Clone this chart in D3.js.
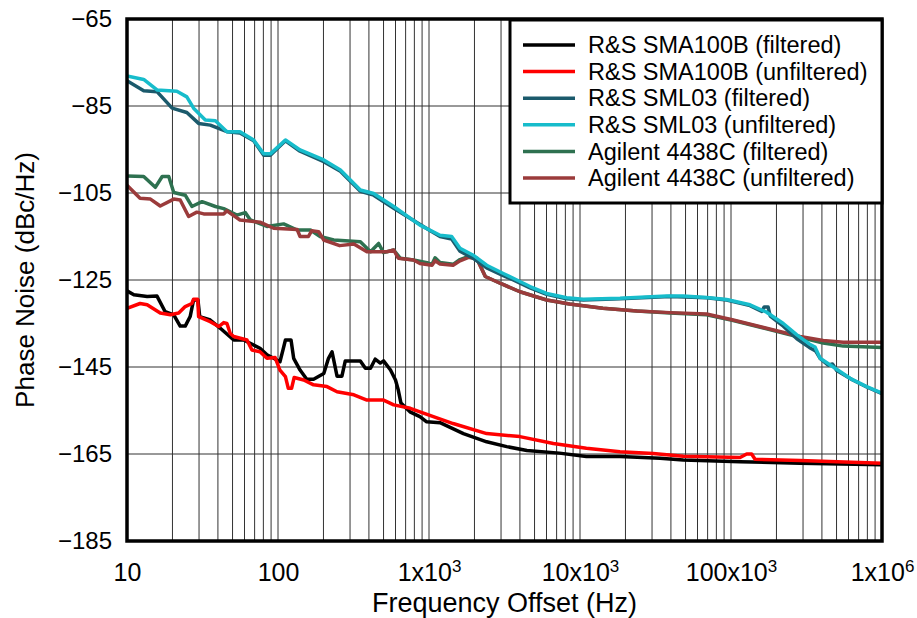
<!DOCTYPE html>
<html><head><meta charset="utf-8">
<script src="https://cdn.jsdelivr.net/npm/d3@7"></script>
<style>
body{margin:0;background:#fff;}
svg{display:block;font-family:"Liberation Sans",Arial,sans-serif;}
</style></head><body>
<svg id="chart" width="917" height="618"></svg>
<script>
const seriesNames = ["R&S SMA100B (filtered)","R&S SMA100B (unfiltered)","R&S SML03 (filtered)","R&S SML03 (unfiltered)","Agilent 4438C (filtered)","Agilent 4438C (unfiltered)"];
const seriesColors = ["#000000","#ff0000","#1b5a6c","#17bccb","#2e7150","#9b3b3b"];
const yTicks = [-65,-85,-105,-125,-145,-165,-185];
const xTicks = [10,100,1e3,1e4,1e5,1e6];
const xTickLabels = ["10","100","1x10^3","10x10^3","100x10^3","1x10^6"];

const smaFiltered = [[10,-127.5],[11.1,-128.4],[13.6,-128.8],[15.8,-128.7],[17.9,-132.3],[20.4,-133.0],[22.5,-135.6],[24.3,-135.6],[26.2,-133.4],[27.6,-129.6],[29.5,-129.6],[30.3,-133.4],[35.6,-134.2],[41.5,-136.1],[50.9,-138.8],[59.3,-138.8],[76,-140.7],[84.5,-142.2],[93.6,-143.0],[103,-143.8],[108,-141],[112,-138.8],[122,-138.8],[127,-143.0],[140,-145.7],[155,-147.8],[172,-147.8],[201,-146.5],[216,-143.0],[228,-141.5],[246,-147.1],[265,-147.1],[279,-143.6],[351,-143.6],[379,-145.3],[410,-145.3],[440,-143.2],[476,-144.1],[500,-143.6],[556,-145.7],[600,-148.0],[626,-150.3],[652,-153.3],[748,-155.3],[870,-156.4],[965,-157.6],[1183,-157.8],[1690,-160.3],[2410,-162.2],[3270,-163.3],[4450,-164.2],[7300,-164.8],[11020,-165.6],[18400,-165.6],[33900,-166.0],[48300,-166.4],[114800,-166.8],[286500,-167.1],[1e6,-167.5]];
const smaUnfiltered = [[10,-131.5],[12.2,-130.4],[13.6,-130.7],[16.6,-132.6],[19.4,-133.0],[22,-132.6],[24.3,-131.1],[26.9,-130.4],[27.6,-129.4],[29.4,-129.4],[29.8,-133.4],[35.6,-134.6],[40.5,-135.7],[43.7,-134.8],[45.9,-135.0],[48.3,-137.3],[50.9,-138.0],[62.3,-138.8],[67.2,-141.1],[76,-141.5],[84.5,-143.0],[95.6,-142.8],[103,-145.7],[112,-147.2],[117,-149.9],[123,-149.9],[128,-147.4],[148,-148.0],[172,-149.1],[211,-149.5],[246,-150.7],[318,-151.4],[388,-152.6],[500,-152.6],[584,-153.7],[752,-154.5],[871,-155.3],[1444,-158.0],[2410,-160.3],[4000,-161.0],[6660,-162.6],[11020,-163.7],[18400,-164.5],[30500,-164.9],[48300,-165.5],[114800,-165.8],[127000,-165.0],[137000,-165.0],[144300,-166.2],[286500,-166.5],[1e6,-167.1]];
const smlFiltered = [[10,-79.2],[12.9,-81.5],[15.8,-81.7],[19.9,-85.5],[24.9,-86.5],[29.8,-89.0],[35.6,-89.4],[45.9,-90.9],[56,-91.2],[69,-93.0],[80.4,-96.3],[89,-96.3],[112,-93.0],[140,-95.4],[201,-97.8],[259,-100.0],[351,-104.6],[430,-105.5],[584,-108.5],[970,-113.2],[1183,-115.0],[1413,-115.6],[1604,-118.4],[1964,-120.0],[2410,-122.2],[3105,-124.0],[3615,-125.0],[4667,-126.8],[6013,-128.3],[8160,-129.3],[10520,-129.6],[18400,-129.3],[39470,-128.8],[68900,-129.1],[93500,-129.6],[133600,-130.9],[160000,-132.2],[166000,-131.2],[176000,-131.2],[182000,-133.3],[222000,-135.6],[273000,-138.5],[330000,-140.5],[363000,-141.3],[389000,-143.0],[440000,-144.6],[470000,-144.3],[501000,-145.8],[640000,-148.0],[792000,-149.6],[1e6,-151.1]];
const smlUnfiltered = [[10,-78.1],[12.9,-78.9],[15.8,-81.3],[21.4,-81.6],[24.9,-82.9],[27.6,-85.5],[33,-88.2],[38.5,-88.4],[45.9,-90.9],[56,-90.9],[69,-92.8],[80.4,-96.0],[89,-96.0],[112,-92.8],[140,-95.1],[201,-97.4],[259,-99.7],[351,-104.3],[430,-105.1],[584,-108.1],[871,-112.4],[1183,-114.7],[1413,-115.0],[1604,-117.7],[1964,-119.3],[2410,-121.6],[3105,-123.5],[3615,-124.6],[4667,-126.5],[6013,-128.1],[8160,-129.1],[10520,-129.4],[18400,-129.2],[37500,-128.7],[48300,-128.7],[68900,-129.0],[93500,-129.5],[133600,-130.7],[172000,-132.4],[222000,-135.0],[273000,-137.6],[330000,-139.7],[360000,-140.4],[389000,-143.0],[501000,-145.5],[614000,-147.6],[792000,-149.5],[1e6,-151.0]];
const agFiltered = [[10,-101.1],[12.9,-101.2],[15.4,-103.7],[17.1,-101.2],[18.9,-101.2],[20.4,-104.9],[24.3,-105.5],[26.9,-108.1],[31.4,-107.0],[38.5,-108.1],[43.7,-108.6],[53.4,-110.1],[60.7,-109.5],[65.6,-111.2],[84.5,-112.7],[109,-112.1],[134,-113.5],[164,-113.5],[190,-115.0],[234,-115.8],[351,-116.2],[410,-118.5],[464,-116.6],[500,-118.7],[584,-118.1],[646,-120.0],[790,-120.4],[970,-121.0],[1047,-121.4],[1097,-119.9],[1183,-121.0],[1444,-121.4],[1604,-120.3],[1828,-119.6],[2078,-120.0],[2360,-124.2],[2980,-125.8],[4000,-127.7],[6013,-129.6],[8520,-130.5],[14160,-131.5],[23800,-132.1],[39470,-132.6],[68900,-133.0],[103500,-134.3],[172000,-136.2],[286500,-138.2],[408000,-139.5],[554000,-140.2],[1e6,-140.5]];
const agUnfiltered = [[10,-103.2],[12.2,-106.2],[14.3,-106.4],[16.6,-108.0],[20.4,-106.4],[22.5,-106.6],[25.6,-110.4],[29,-109.4],[32.2,-109.8],[43.7,-109.8],[45.9,-109.1],[56,-111.2],[76,-111.7],[93.6,-113.1],[134,-113.4],[140,-115.0],[159,-115.0],[167,-113.7],[186,-113.9],[201,-115.8],[256,-117.1],[318,-116.7],[388,-118.5],[526,-118.5],[584,-118.1],[626,-120.0],[790,-120.4],[871,-121.2],[1047,-121.6],[1097,-120.6],[1183,-121.3],[1444,-121.6],[1604,-120.6],[1828,-119.8],[2078,-120.2],[2360,-124.2],[2980,-125.8],[4000,-127.7],[6013,-129.6],[8520,-130.5],[14160,-131.5],[23800,-132.1],[39470,-132.5],[68900,-132.8],[103500,-134.2],[172000,-136.1],[286500,-138.0],[408000,-138.9],[554000,-139.3],[1e6,-139.3]];

const seriesData = [smaFiltered, smaUnfiltered, smlFiltered, smlUnfiltered, agFiltered, agUnfiltered];
const drawOrder = [4,5,2,3,0,1];

const svg = d3.select("#chart");
const L = 127, R = 882, T = 19, B = 541;
const x = d3.scaleLog().domain([10,1e6]).range([L,R]);
const y = d3.scaleLinear().domain([-185,-65]).range([B,T]);

svg.append("defs").append("clipPath").attr("id","clip")
  .append("rect").attr("x",L).attr("y",T).attr("width",R-L).attr("height",B-T);

const grid = svg.append("g");
grid.selectAll("line.v").data(x.ticks()).join("line")
  .attr("x1",d=>x(d)).attr("x2",d=>x(d)).attr("y1",T).attr("y2",B)
  .attr("stroke","#333").attr("stroke-width",1);
grid.selectAll("line.h").data(yTicks).join("line")
  .attr("x1",L).attr("x2",R).attr("y1",d=>y(d)).attr("y2",d=>y(d))
  .attr("stroke","#333").attr("stroke-width",1);

const line = d3.line().x(d=>x(d[0])).y(d=>y(d[1]));
const lg = svg.append("g").attr("clip-path","url(#clip)");
drawOrder.forEach(i=>{
  lg.append("path").datum(seriesData[i]).attr("d",line)
    .attr("fill","none").attr("stroke",seriesColors[i]).attr("stroke-width",3.5)
    .attr("stroke-linejoin","round");
});

const yAxis = svg.append("g").attr("transform",`translate(${L},0)`)
  .call(d3.axisLeft(y).tickValues(yTicks).tickSize(0).tickPadding(15).tickFormat(d=>"\u2212"+Math.abs(d)));
yAxis.select(".domain").remove();
yAxis.selectAll("text").attr("font-size",24).attr("fill","#000").attr("font-family","Liberation Sans, Arial, sans-serif");

const xAxis = svg.append("g").attr("transform",`translate(0,${B})`)
  .call(d3.axisBottom(x).tickValues(xTicks).tickSize(0).tickPadding(22).tickFormat((d,i)=>xTickLabels[i]));
xAxis.select(".domain").remove();
xAxis.selectAll("text").attr("font-size",25).attr("fill","#000").attr("font-family","Liberation Sans, Arial, sans-serif")
  .each(function(d,i){
    const lab = xTickLabels[i];
    const t = d3.select(this);
    if(lab.includes("^")){
      const [base,exp] = lab.split("^");
      t.text(null);
      t.append("tspan").text(base);
      t.append("tspan").attr("dy","-0.5em").attr("font-size",17).text(exp);
    }
  });

svg.append("rect").attr("x",L).attr("y",T).attr("width",R-L).attr("height",B-T)
  .attr("fill","none").attr("stroke","#000").attr("stroke-width",3.5);

svg.append("text").attr("x",(L+R)/2).attr("y",612).attr("text-anchor","middle")
  .attr("font-size",27).text("Frequency Offset (Hz)");
svg.append("text").attr("transform",`translate(34,${(T+B)/2}) rotate(-90)`).attr("text-anchor","middle")
  .attr("font-size",26).text("Phase Noise (dBc/Hz)");

const lgX = 510, lgY = 20, lgW = 372, lgH = 183;
const leg = svg.append("g");
leg.append("rect").attr("x",lgX).attr("y",lgY).attr("width",lgW).attr("height",lgH)
  .attr("fill","#fff").attr("stroke","#000").attr("stroke-width",3);
seriesNames.forEach((n,i)=>{
  const yy = 45 + i*26.6;
  leg.append("line").attr("x1",523).attr("x2",575).attr("y1",yy).attr("y2",yy)
    .attr("stroke",seriesColors[i]).attr("stroke-width",3.5);
  leg.append("text").attr("x",588).attr("y",yy).attr("dy","0.35em")
    .attr("font-size",23.5).text(n);
});
</script>
</body></html>
